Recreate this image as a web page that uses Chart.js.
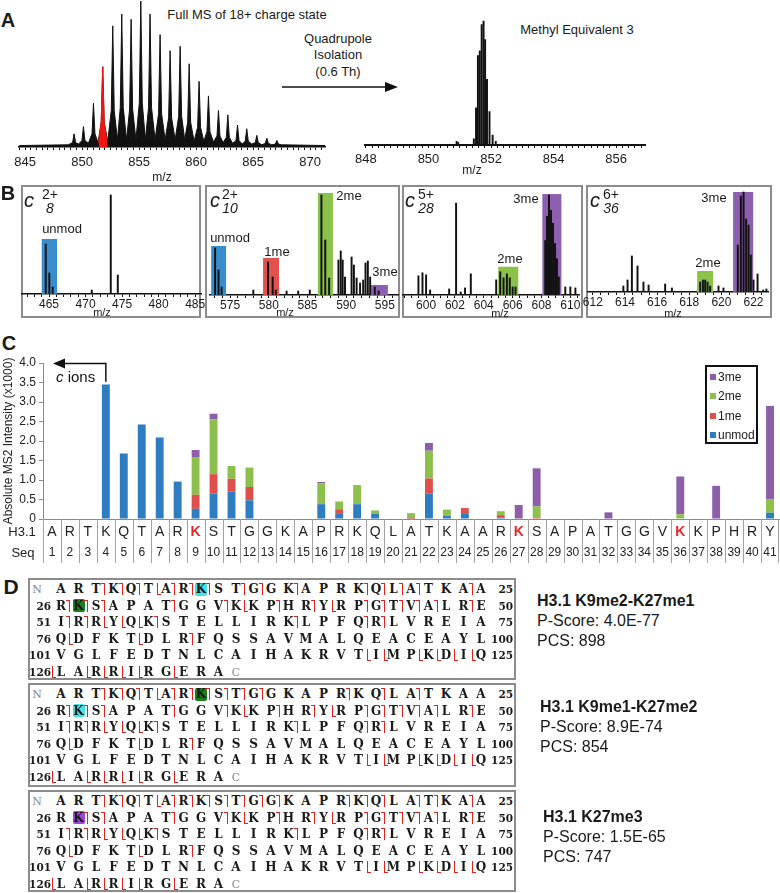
<!DOCTYPE html>
<html>
<head>
<meta charset="utf-8">
<title>H3.1 c-ion methylation map</title>
<script src="https://cdn.jsdelivr.net/npm/chart.js@4.4.1/dist/chart.umd.min.js"></script>
<style>
  body { margin: 0; background: #fff; }
  #fig { position: relative; width: 780px; height: 893px; overflow: hidden; font-family: "Liberation Sans", Arial, sans-serif; color: #1a1a1a; }
  #fig canvas { position: absolute; }
  .t { position: absolute; white-space: nowrap; line-height: 1; }
  .frame { position: absolute; box-sizing: border-box; border: 2px solid #8c8c8c; }
  .seq { position: absolute; white-space: nowrap; line-height: 1; font-family: "DejaVu Serif", "Liberation Serif", serif; font-weight: bold; font-size: 12px; transform: translate(-50%, -50%); }
  svg.ov { position: absolute; left: 0; top: 0; }
</style>
</head>
<body>
<div id="fig"></div>
<script>
const FONT = '"Liberation Sans", Arial, sans-serif';
Chart.defaults.font.family = FONT;
Chart.defaults.color = '#1a1a1a';

// ---- panel C: absolute MS2 intensity of c ions (x1000) ----
const residues = ['A','R','T','K','Q','T','A','R','K','S',
                  'T','G','G','K','A','P','R','K','Q','L',
                  'A','T','K','A','A','R','K','S','A','P',
                  'A','T','G','G','V','K','K','P','H','R','Y'];
const seqNums = residues.map((r, i) => String(i + 1));
const modSites = [9, 27, 36];
const seriesNames = ['unmod', '1me', '2me', '3me'];
const seriesColors = ['#2e7dc0', '#df504d', '#8dbf4c', '#8c5fa8'];
const unmod = [0, 0, 0, 3.45, 1.68, 2.42, 2.09, 0.96, 0.26, 0.65,
               0.70, 0.48, 0, 0, 0, 0.38, 0.15, 0.38, 0.13, 0,
               0.01, 0.65, 0.08, 0.15, 0, 0.03, 0, 0, 0, 0,
               0, 0, 0, 0, 0, 0, 0, 0, 0, 0, 0.16];
const me1 = [0, 0, 0, 0, 0, 0, 0, 0, 0.36, 0.50,
             0.33, 0.34, 0, 0, 0, 0.02, 0.10, 0, 0, 0,
             0.03, 0.39, 0, 0.13, 0, 0.07, 0, 0.03, 0, 0,
             0, 0, 0, 0, 0, 0, 0, 0, 0, 0, 0];
const me2 = [0, 0, 0, 0, 0, 0, 0, 0, 0.97, 1.41,
             0.33, 0.50, 0, 0, 0, 0.52, 0.20, 0.49, 0.09, 0,
             0.11, 0.71, 0.16, 0, 0, 0.10, 0, 0.29, 0, 0,
             0, 0, 0, 0, 0, 0.12, 0, 0, 0, 0, 0.35];
const me3 = [0, 0, 0, 0, 0, 0, 0, 0, 0.18, 0.14,
             0, 0, 0, 0, 0, 0.03, 0, 0, 0, 0,
             0, 0.20, 0, 0, 0, 0, 0.36, 0.98, 0, 0,
             0, 0.17, 0, 0, 0, 0.97, 0, 0.85, 0, 0, 2.39];

// ---- panel A: full MS profile (apex, shoulders, valleys) and the isolated window ----
const fullMsMz = [844.5, 848.8,
  849.17, 849.3, 849.43, 849.7, 849.99, 850.12, 850.25, 850.55, 850.87, 851.0, 851.13, 851.4,
  851.68, 851.81, 851.94, 852.25, 852.56, 852.69, 852.82, 853.1, 853.35, 853.48, 853.61, 853.9,
  854.17, 854.3, 854.43, 854.72, 855.02, 855.15, 855.28, 855.55, 855.83, 855.96, 856.09, 856.4,
  856.71, 856.84, 856.97, 857.28, 857.59, 857.72, 857.85, 858.16, 858.47, 858.6, 858.73, 859.0,
  859.26, 859.39, 859.52, 859.82, 860.13, 860.26, 860.39, 860.67, 860.95, 861.08, 861.21, 861.52,
  861.83, 861.96, 862.09, 862.37, 862.65, 862.78, 862.91, 863.2, 863.5, 863.63, 863.76, 864.03,
  864.31, 864.44, 864.57, 864.88, 865.19, 865.32, 865.45, 865.76, 866.07, 866.2, 866.33, 866.64,
  866.95, 867.08, 867.21, 867.5, 871.3];
const fullMsInt = [0.01, 0.015,
  0.03, 0.09, 0.03, 0.02, 0.045, 0.14, 0.045, 0.025, 0.09, 0.30, 0.09, 0.03,
  0.17, 0.55, 0.17, 0.04, 0.25, 0.83, 0.25, 0.05, 0.27, 0.91, 0.27, 0.05,
  0.26, 0.875, 0.26, 0.05, 0.30, 1.0, 0.30, 0.05, 0.27, 0.91, 0.27, 0.05,
  0.23, 0.77, 0.23, 0.05, 0.20, 0.66, 0.20, 0.05, 0.21, 0.69, 0.21, 0.05,
  0.17, 0.57, 0.17, 0.04, 0.135, 0.45, 0.135, 0.04, 0.105, 0.35, 0.105, 0.035,
  0.075, 0.25, 0.075, 0.03, 0.066, 0.22, 0.066, 0.025, 0.045, 0.15, 0.045, 0.02,
  0.04, 0.125, 0.04, 0.02, 0.03, 0.08, 0.03, 0.015, 0.025, 0.06, 0.025, 0.015,
  0.02, 0.045, 0.02, 0.015, 0.01];
const selectedMz = [851.45, 851.68, 851.81, 851.94, 852.2];
const selectedInt = [0.03, 0.17, 0.55, 0.17, 0.03];
const me3WinMz = [850.9, 850.95, 851.45, 851.52, 851.58, 851.64, 851.70, 851.76, 851.81, 851.87, 851.95, 852.05, 852.15];
const me3WinInt = [0.03, 0.02, 0.05, 0.30, 0.72, 0.76, 0.97, 1.0, 0.85, 0.53, 0.27, 0.08, 0.03];

// ---- panel B: c ion spectra and methyl bands ----
const c8Mz = [464.55, 465.04, 465.5, 470.85, 473.45, 474.41];
const c8Int = [0.50, 0.21, 0.07, 0.04, 0.99, 0.19];
const c10Mz = [573.06, 573.5, 573.9, 578.0, 579.9, 580.5, 580.9, 582.3, 583.8, 585.3,
               586.8, 587.3, 587.8, 589.0, 589.3, 589.55, 589.85, 590.7, 591.0, 591.35,
               591.8, 592.2, 592.5, 592.8, 593.1, 593.7, 594.2];
const c10Int = [0.47, 0.25, 0.08, 0.05, 0.33, 0.18, 0.05, 0.04, 0.04, 0.05,
                1.0, 0.55, 0.17, 0.35, 0.44, 0.35, 0.18, 0.38, 0.30, 0.17,
                0.12, 0.15, 0.32, 0.34, 0.18, 0.08, 0.04];
const c28Mz = [599.47, 599.75, 600.0, 600.28, 601.6, 602.08, 602.4, 602.7, 603.1, 604.86,
               605.14, 605.37, 605.6, 605.8, 606.0, 606.2, 608.26, 608.38, 608.52, 608.66,
               608.8, 608.94, 609.07, 609.2, 609.65, 610.0, 610.35];
const c28Int = [0.19, 0.22, 0.20, 0.05, 0.06, 0.91, 0.03, 0.07, 0.21, 0.15,
                0.23, 0.17, 0.21, 0.17, 0.08, 0.08, 0.54, 0.78, 0.99, 0.84,
                0.71, 0.51, 0.36, 0.18, 0.08, 0.08, 0.07];
const c36Mz = [613.9, 614.16, 614.43, 614.78, 615.15, 615.47, 616.5, 616.92, 618.68, 618.85,
               618.99, 619.14, 619.3, 619.82, 620.13, 621.02, 621.21, 621.38, 621.54, 621.69,
               621.83, 622.0, 622.25, 622.6, 622.8];
const c36Int = [0.06, 0.12, 0.36, 0.26, 0.10, 0.07, 0.08, 0.04, 0.10, 0.12,
                0.12, 0.10, 0.06, 0.06, 0.04, 0.47, 0.96, 1.0, 0.73, 0.67,
                0.37, 0.12, 0.18, 0.02, 0.03];
const bandColors = { unmod: '#3a8dcc', '1me': '#e0514f', '2me': '#8bc34a', '3me': '#8e5fb0' };
const c8Bands = [{ from: 464.0, to: 466.1, top: 0.55, kind: 'unmod' }];
const c10Bands = [{ from: 572.55, to: 574.48, top: 0.49, kind: 'unmod' },
                  { from: 579.26, to: 581.32, top: 0.37, kind: '1me' },
                  { from: 586.35, to: 588.29, top: 1.02, kind: '2me' },
                  { from: 593.19, to: 595.39, top: 0.10, kind: '3me' }];
const c28Bands = [{ from: 605.0, to: 606.39, top: 0.28, kind: '2me' },
                  { from: 608.06, to: 609.38, top: 1.0, kind: '3me' }];
const c36Bands = [{ from: 618.49, to: 619.48, top: 0.21, kind: '2me' },
                  { from: 620.73, to: 621.98, top: 1.0, kind: '3me' }];

// ---- panel D: fragment maps (] = c ion, [ = z ion) ----
const rowStarts = ['N', '26', '51', '76', '101', '126'];
const rowEnds = ['25', '50', '75', '100', '125', ''];
const sharedRows = ['I]R]R[Y[Q[K]S T E L L I R K]L P F Q]R]L V R E I A',
                    'Q[D F K T[D L R]F Q S S A V M A L Q E A C E A Y L',
                    'V G L F E D T N L C A I H A K R V T[I[M P[K[D[I[Q',
                    '[L A[R[R[I[R G[E R A'];
const forms = [
  { name: 'H3.1 K9me2-K27me1', pscore: '4.0E-77', pcs: '898',
    rows: ['A R T]K]Q]T[A]R]K]S T]G]G K]A P R K]Q]L]A]T K A]A',
           'R]K]S]A P A T]G G V]K[K P]H R]Y[R P]G]T]V]A]L R]E'],
    marks: [{ row: 0, i: 8, color: '#45e2e6' }, { row: 1, i: 1, color: '#17801b' }] },
  { name: 'H3.1 K9me1-K27me2', pscore: '8.9E-74', pcs: '854',
    rows: ['A R T]K]Q]T[A]R]K]S]T]G]G K A P R]K Q]L A]T K A A',
           'R]K]S]A P A T]G G V]K[K P]H R]Y[R P]G]T]V]A]L R]E'],
    marks: [{ row: 0, i: 8, color: '#17801b' }, { row: 1, i: 1, color: '#45e2e6' }] },
  { name: 'H3.1 K27me3', pscore: '1.5E-65', pcs: '747',
    rows: ['A R T]K]Q]T[A]R]K]S]T]G]G]K A P R]K]Q]L A]T]K A]A',
           'R K]S]A P A T]G G V]K[K P]H R]Y[R P]G]T]V]A]L R]E'],
    marks: [{ row: 1, i: 1, color: '#9b45da' }] }
];

const fig = document.getElementById('fig');

function addCanvas(left, top, w, h) {
  const c = document.createElement('canvas');
  c.width = Math.round(w); c.height = Math.round(h);
  c.style.left = left + 'px'; c.style.top = top + 'px';
  c.style.width = Math.round(w) + 'px'; c.style.height = Math.round(h) + 'px';
  fig.appendChild(c);
  return c;
}

function text(str, x, y, style, align) {
  const d = document.createElement('div');
  d.className = 't';
  d.innerHTML = str;
  d.style.left = x + 'px'; d.style.top = y + 'px';
  d.style.transform = align === 'left' ? 'translate(0,-50%)' : 'translate(-50%,-50%)';
  Object.assign(d.style, style || {});
  fig.appendChild(d);
  return d;
}

function frame(left, top, w, h, color) {
  const d = document.createElement('div');
  d.className = 'frame';
  Object.assign(d.style, { left: left + 'px', top: top + 'px', width: w + 'px', height: h + 'px' });
  if (color) d.style.borderColor = color;
  fig.appendChild(d);
  return d;
}

function tickRange(from, to, step) {
  const out = [];
  for (let v = from; v <= to + 1e-9; v += step) out.push(+v.toFixed(3));
  return out;
}
const every = n => v => Math.abs(v / n - Math.round(v / n)) < 1e-6;
const points = (xs, ys) => xs.map((m, i) => ({ x: m, y: ys[i] }));

// coloured isolation bands behind the sticks
const bandPlugin = {
  id: 'bands',
  beforeDatasetsDraw(chart, args, opts) {
    const { ctx, scales: { x, y } } = chart;
    (opts.list || []).forEach(b => {
      const x0 = x.getPixelForValue(b.from), x1 = x.getPixelForValue(b.to);
      const y0 = y.getPixelForValue(b.top), y1 = y.getPixelForValue(0);
      ctx.fillStyle = bandColors[b.kind];
      ctx.fillRect(x0, y0, x1 - x0, y1 - y0);
    });
  }
};

// one spectrum: g gives the plot box on the page and the m/z range
function spectrum(g, type, datasets, bands, ticks, major) {
  const padL = 12, padR = 12, padT = 2;
  const axisH = Math.ceil(3 + g.pad + g.font * 1.2 + 1);
  const plotTop = g.base - g.ymax * (g.base - g.one);
  const canvas = addCanvas(g.x0 - padL, plotTop - padT, g.x1 - g.x0 + padL + padR, g.base - plotTop + padT + axisH);
  return new Chart(canvas, {
    type: type,
    data: { datasets: datasets },
    options: {
      responsive: false, animation: false,
      layout: { padding: { left: padL, right: padR, top: padT, bottom: 0 } },
      plugins: { legend: { display: false }, tooltip: { enabled: false }, bands: { list: bands } },
      scales: {
        x: {
          type: 'linear', min: g.min, max: g.max, offset: false,
          afterFit: s => { s.height = axisH; },
          afterBuildTicks: s => { s.ticks = ticks.map(v => ({ value: v })); },
          border: { color: '#111', width: g.axisW || 1.5 },
          grid: { drawOnChartArea: false, offset: false, tickLength: 3, color: '#111', lineWidth: 1 },
          ticks: { autoSkip: false, maxRotation: 0, padding: g.pad, color: '#1a1a1a', font: { size: g.font },
                   callback: v => major(v) ? String(Math.round(v)) : '' }
        },
        y: { display: false, min: 0, max: g.ymax }
      }
    },
    plugins: [bandPlugin]
  });
}

const sticks = (xs, ys) => ({ data: points(xs, ys), backgroundColor: '#111', barThickness: 1.3 });

// ---------- panel A ----------
text('A', 8, 20, { fontSize: '20px', fontWeight: 'bold' });
text('Full MS of 18+ charge state', 247, 14, { fontSize: '13px' });
text('Quadrupole', 338, 38, { fontSize: '13px' });
text('Isolation', 338, 54, { fontSize: '13px' });
text('(0.6 Th)', 338, 71, { fontSize: '13px' });
text('Methyl Equivalent 3', 577, 29, { fontSize: '13px' });

spectrum({ x0: 19, x1: 325, base: 147, one: 1, min: 844.47, max: 871.3, ymax: 1.0, font: 13, pad: 5 }, 'line', [
  { data: points(selectedMz, selectedInt), borderColor: '#f01515', backgroundColor: '#f01515', fill: 'origin', pointRadius: 0, borderWidth: 1, tension: 0 },
  { data: points(fullMsMz, fullMsInt), borderColor: '#111', backgroundColor: '#111', fill: 'origin', pointRadius: 0, borderWidth: 1, tension: 0 }
], [], tickRange(844.5, 871, 0.5), every(5));
text('m/z', 162, 177, { fontSize: '12px' });

spectrum({ x0: 363, x1: 645, base: 145, one: 21, min: 847.96, max: 856.92, ymax: 1.04, font: 13, pad: 4, axisW: 2 }, 'bar',
  [sticks(me3WinMz, me3WinInt)], [], tickRange(848, 856.8, 0.2), every(2));
text('m/z', 472, 170, { fontSize: '12px' });

const arrowSvg = document.createElementNS('http://www.w3.org/2000/svg', 'svg');
arrowSvg.setAttribute('class', 'ov');
arrowSvg.setAttribute('width', '780'); arrowSvg.setAttribute('height', '120');
arrowSvg.innerHTML = '<line x1="282" y1="87" x2="388" y2="87" stroke="#111" stroke-width="1.5"/>' +
                     '<polygon points="398,87 385,82 385,92" fill="#111"/>';
fig.appendChild(arrowSvg);

// ---------- panel B ----------
text('B', 8, 193, { fontSize: '20px', fontWeight: 'bold' });
frame(21, 185, 180, 133);
frame(205, 185, 195, 133);
frame(402, 185, 181, 133);
frame(586, 185, 186, 133);

spectrum({ x0: 22, x1: 201, base: 294, one: 194, min: 461.3, max: 485.8, ymax: 1.06, font: 12, pad: 0 }, 'bar',
  [sticks(c8Mz, c8Int)], c8Bands, tickRange(462, 485, 1), every(5));
spectrum({ x0: 210, x1: 398, base: 295, one: 195, min: 572.4, max: 596.7, ymax: 1.06, font: 12, pad: 0 }, 'bar',
  [sticks(c10Mz, c10Int)], c10Bands, tickRange(573, 596, 1), every(5));
spectrum({ x0: 403, x1: 579, base: 295, one: 194, min: 598.4, max: 610.6, ymax: 1.06, font: 12, pad: 0 }, 'bar',
  [sticks(c28Mz, c28Int)], c28Bands, tickRange(598.5, 610.5, 0.5), every(2));
spectrum({ x0: 588, x1: 768, base: 292, one: 192, min: 611.7, max: 622.9, ymax: 1.06, font: 12, pad: 0 }, 'bar',
  [sticks(c36Mz, c36Int)], c36Bands, tickRange(612, 622.5, 0.5), every(2));

const ionLabels = [['8', '2+', 29, 50], ['10', '2+', 215, 230], ['28', '5+', 410, 426], ['36', '6+', 595, 611]];
ionLabels.forEach(([n, z, cx, sx]) => {
  text('c', cx, 200, { fontSize: '20px', fontStyle: 'italic' });
  text(z, sx, 194, { fontSize: '14px' });
  text(n, sx, 208, { fontSize: '14px', fontStyle: 'italic' });
});
text('unmod', 62, 228, { fontSize: '13px' });
text('unmod', 230, 237, { fontSize: '13px' });
text('1me', 277, 251, { fontSize: '13px' });
text('2me', 349, 195, { fontSize: '13px' });
text('3me', 385, 271, { fontSize: '13px' });
text('2me', 510, 258, { fontSize: '13px' });
text('3me', 526, 198, { fontSize: '13px' });
text('2me', 708, 262, { fontSize: '13px' });
text('3me', 714, 197, { fontSize: '13px' });
[[102, 312], [285, 312], [500, 313], [673, 313]].forEach(([x, y]) => text('m/z', x, y, { fontSize: '11px' }));

// ---------- panel C ----------
text('C', 9, 343, { fontSize: '20px', fontWeight: 'bold' });

// residue / position table under the bars
const seqTablePlugin = {
  id: 'seqTable',
  afterDraw(chart) {
    const { ctx, chartArea, scales: { x } } = chart;
    const top = chartArea.bottom;
    const step = x.getPixelForValue(1) - x.getPixelForValue(0);
    ctx.save();
    ctx.strokeStyle = '#a3a3a3'; ctx.lineWidth = 1;
    ctx.textAlign = 'center'; ctx.textBaseline = 'middle';
    residues.forEach((r, i) => {
      const cx = x.getPixelForValue(i);
      const edge = Math.round(cx - step / 2) + 0.5;
      ctx.beginPath(); ctx.moveTo(edge, top); ctx.lineTo(edge, top + 44); ctx.stroke();
      const mod = modSites.includes(i + 1);
      ctx.fillStyle = mod ? '#e8262a' : '#222';
      ctx.font = (mod ? 'bold ' : '') + '14px ' + FONT;
      ctx.fillText(r, cx, top + 13);
      ctx.fillStyle = '#222';
      ctx.font = '12px ' + FONT;
      ctx.fillText(seqNums[i], cx, top + 34);
    });
    const last = Math.round(x.getPixelForValue(residues.length - 1) + step / 2) - 0.5;
    ctx.beginPath(); ctx.moveTo(last, top); ctx.lineTo(last, top + 44); ctx.stroke();
    ctx.fillStyle = '#222';
    ctx.font = '13px ' + FONT;
    ctx.fillText('H3.1', 22, top + 13);
    ctx.fillText('Seq', 23, top + 34);
    ctx.restore();
  }
};

// "c ions" direction arrow
const cIonsPlugin = {
  id: 'cIons',
  afterDraw(chart) {
    const { ctx, scales: { x, y } } = chart;
    const xs = x.getPixelForValue(3), tip = x.getPixelForValue(0) + 1;
    const y0 = y.getPixelForValue(3.52), y1 = Math.round(y.getPixelForValue(4)) + 0.5;
    ctx.save();
    ctx.strokeStyle = '#111'; ctx.fillStyle = '#111'; ctx.lineWidth = 1.5;
    ctx.beginPath(); ctx.moveTo(xs, y0); ctx.lineTo(xs, y1); ctx.lineTo(tip + 10, y1); ctx.stroke();
    ctx.beginPath(); ctx.moveTo(tip, y1); ctx.lineTo(tip + 12, y1 - 5); ctx.lineTo(tip + 12, y1 + 5); ctx.closePath(); ctx.fill();
    const ty = y.getPixelForValue(3.615);
    ctx.textBaseline = 'middle'; ctx.textAlign = 'left';
    ctx.font = 'italic 15px ' + FONT;
    ctx.fillText('c', tip + 3, ty);
    const cw = ctx.measureText('c').width;
    ctx.font = '15px ' + FONT;
    ctx.fillText(' ions', tip + 3 + cw, ty);
    ctx.restore();
  }
};

new Chart(addCanvas(0, 330, 780, 240), {
  type: 'bar',
  data: {
    labels: residues,
    datasets: [unmod, me1, me2, me3].map((vals, k) => ({
      label: seriesNames[k], data: vals, backgroundColor: seriesColors[k],
      barPercentage: 0.44, categoryPercentage: 1
    }))
  },
  options: {
    responsive: false, animation: false,
    layout: { padding: { top: 33, right: 1, bottom: 51, left: 0 } },
    plugins: { legend: { display: false }, tooltip: { enabled: false } },
    scales: {
      x: { stacked: true, afterFit: s => { s.height = 0; },
           ticks: { display: false }, grid: { display: false }, border: { color: '#8a8a8a', width: 1 } },
      y: { stacked: true, min: 0, max: 4,
           afterFit: s => { s.width = 43; },
           ticks: { stepSize: 0.5, padding: 3, color: '#222', font: { size: 12 },
                    callback: v => v === 0 ? '0' : v.toFixed(1) },
           grid: { drawOnChartArea: false, tickLength: 4, color: '#8a8a8a' },
           border: { color: '#8a8a8a' },
           title: { display: true, text: 'Absolute MS2 Intensity (x1000)', color: '#222', font: { size: 12 }, padding: 1 } }
    }
  },
  plugins: [seqTablePlugin, cIonsPlugin]
});

// legend box (top series first)
frame(705, 365, 53, 79, '#111');
seriesNames.slice().reverse().forEach((name, j) => {
  const k = seriesNames.length - 1 - j;
  const cy = 377 + j * 19.3;
  const sw = document.createElement('div');
  Object.assign(sw.style, { position: 'absolute', left: '710px', top: (cy - 3) + 'px', width: '6px', height: '6px', background: seriesColors[k] });
  fig.appendChild(sw);
  text(name, 718, cy, { fontSize: '12px' }, 'left');
});

// ---------- panel D ----------
text('D', 11, 586, { fontSize: '21px', fontWeight: 'bold' });
const formBoxes = [{ top: 578, h: 102, tx: 537, ty: 601 },
                   { top: 683, h: 104, tx: 540, ty: 707 },
                   { top: 790, h: 102, tx: 543, ty: 817 }];
const RES_X0 = 61, RES_DX = 17.5, ROW_DY = 16.6;

function parseRow(str) {
  const res = [], cuts = [];
  let idx = -1;
  for (const ch of str) {
    if (ch === ' ') continue;
    if (ch === ']' || ch === '[') cuts.push({ after: idx, type: ch });
    else { idx++; res.push(ch); }
  }
  return { res, cuts };
}

function cutMark(mx, cy, type) {
  const d = document.createElement('div');
  const s = { position: 'absolute', boxSizing: 'border-box', width: '4px', height: '12px', top: (cy - 6) + 'px' };
  if (type === ']') Object.assign(s, { left: (mx - 3.5) + 'px', borderTop: '1.5px solid #e3201b', borderRight: '1.5px solid #e3201b' });
  else Object.assign(s, { left: (mx - 0.5) + 'px', borderBottom: '1.5px solid #e3201b', borderLeft: '1.5px solid #e3201b' });
  Object.assign(d.style, s);
  fig.appendChild(d);
}

forms.forEach((f, b) => {
  const box = formBoxes[b];
  frame(28, box.top, 488, box.h);
  const rows = f.rows.concat(sharedRows);
  rows.forEach((rowStr, r) => {
    const cy = box.top + 11 + r * ROW_DY;
    const { res, cuts } = parseRow(rowStr);
    if (r === 0) text('N', 37, cy, { fontFamily: '"DejaVu Serif", serif', fontSize: '11px', color: '#888' });
    else text(rowStarts[r], 51, cy, { fontFamily: '"DejaVu Serif", serif', fontSize: '10.5px', fontWeight: 'bold', transform: 'translate(-100%,-50%)' });
    if (rowEnds[r]) text(rowEnds[r], 513, cy, { fontFamily: '"DejaVu Serif", serif', fontSize: '10.5px', fontWeight: 'bold', transform: 'translate(-100%,-50%)' });
    res.forEach((aa, i) => {
      const cx = RES_X0 + i * RES_DX;
      const hl = f.marks.find(m => m.row === r && m.i === i);
      if (hl) {
        const sq = document.createElement('div');
        Object.assign(sq.style, { position: 'absolute', left: (cx - 6) + 'px', top: (cy - 6.5) + 'px', width: '12px', height: '13px', background: hl.color, borderRadius: '2px' });
        fig.appendChild(sq);
      }
      const el = document.createElement('div');
      el.className = 'seq';
      el.textContent = aa;
      el.style.left = cx + 'px'; el.style.top = cy + 'px';
      fig.appendChild(el);
    });
    if (r === rows.length - 1) text('C', RES_X0 + res.length * RES_DX, cy, { fontFamily: '"DejaVu Serif", serif', fontSize: '11px', color: '#888' });
    cuts.forEach(c => cutMark(RES_X0 + c.after * RES_DX + RES_DX / 2, cy, c.type));
  });
  text(f.name, box.tx, box.ty, { fontSize: '16px', fontWeight: 'bold' }, 'left');
  text('P-Score: ' + f.pscore, box.tx, box.ty + 20, { fontSize: '16px' }, 'left');
  text('PCS: ' + f.pcs, box.tx, box.ty + 40, { fontSize: '16px' }, 'left');
});
</script>
</body>
</html>
